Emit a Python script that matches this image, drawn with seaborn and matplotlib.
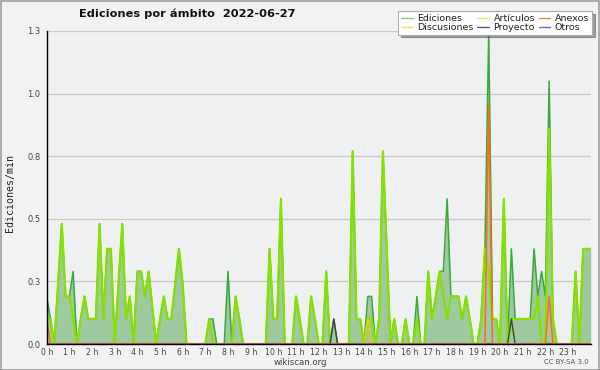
import numpy as np
import pandas as pd
import matplotlib
matplotlib.use("Agg")
import matplotlib.pyplot as plt
import seaborn as sns
from matplotlib.lines import Line2D
from matplotlib.patches import Rectangle
from matplotlib.ticker import MultipleLocator

# ---------------- data (edits/min, 10-minute buckets, 00:00 .. 24:00) ----------------
title = "Ediciones por ámbito  2022-06-27"
ylabel = "Ediciones/min"
hour_labels = [f"{h} h" for h in range(24)]
ytick_values = [0, 0.25, 0.5, 0.75, 1.0, 1.25]
ytick_labels = ["0.0", "0.3", "0.5", "0.8", "1.0", "1.3"]
step_minutes = 10

ediciones = [
    0.19, 0.10, 0, 0.24, 0.48, 0.19, 0.19, 0.29, 0, 0.10, 0.19, 0.10,
    0.10, 0.10, 0.48, 0.10, 0.38, 0.38, 0, 0.24, 0.48, 0.10, 0.19, 0,
    0.29, 0.29, 0.19, 0.29, 0.14, 0, 0.10, 0.19, 0.10, 0.10, 0.24, 0.38,
    0.24, 0, 0, 0, 0, 0, 0, 0.10, 0.10, 0, 0, 0,
    0.29, 0, 0.19, 0.10, 0, 0, 0, 0, 0, 0, 0, 0.38,
    0.10, 0.10, 0.58, 0, 0, 0, 0.19, 0.10, 0, 0, 0.19, 0.10,
    0, 0, 0.29, 0, 0.10, 0, 0, 0, 0, 0.77, 0.10, 0.10,
    0, 0.19, 0.19, 0, 0.10, 0.77, 0.38, 0, 0.10, 0, 0, 0.10,
    0, 0, 0.19, 0, 0, 0.29, 0.10, 0.19, 0.29, 0.29, 0.58, 0.19,
    0.19, 0.19, 0.10, 0.19, 0.10, 0, 0, 0.10, 0.38, 1.24, 0.10, 0.10,
    0, 0.58, 0, 0.38, 0.10, 0.10, 0.10, 0.10, 0.10, 0.38, 0.19, 0.29,
    0.19, 1.05, 0.10, 0, 0, 0, 0, 0, 0.29, 0, 0.38, 0.38,
    0.38,
]
articulos = [
    0.10, 0.10, 0, 0.24, 0.48, 0.19, 0.19, 0.10, 0, 0.10, 0.19, 0.10,
    0.10, 0.10, 0.48, 0.10, 0.38, 0.38, 0, 0.24, 0.48, 0.10, 0.19, 0,
    0.29, 0.29, 0.19, 0.29, 0.14, 0, 0.10, 0.19, 0.10, 0.10, 0.24, 0.38,
    0.24, 0, 0, 0, 0, 0, 0, 0.10, 0, 0, 0, 0,
    0, 0, 0.19, 0.10, 0, 0, 0, 0, 0, 0, 0, 0.38,
    0.10, 0.10, 0.58, 0, 0, 0, 0.19, 0.10, 0, 0, 0.19, 0.10,
    0, 0, 0.29, 0, 0, 0, 0, 0, 0, 0.77, 0.10, 0.10,
    0, 0.10, 0.10, 0, 0.10, 0.77, 0.38, 0, 0.10, 0, 0, 0.10,
    0, 0, 0.10, 0, 0, 0.29, 0.10, 0.19, 0.29, 0.19, 0.10, 0.19,
    0.19, 0.19, 0.10, 0.19, 0.10, 0, 0, 0.10, 0.38, 0.29, 0.10, 0.10,
    0, 0.58, 0, 0.10, 0.10, 0.10, 0.10, 0.10, 0.10, 0.10, 0.19, 0,
    0, 0.86, 0.10, 0, 0, 0, 0, 0, 0.29, 0, 0.38, 0.38,
    0.38,
]
anexos = [
    0.10, 0, 0, 0, 0, 0, 0, 0, 0, 0, 0, 0,
    0, 0, 0, 0, 0, 0, 0, 0, 0, 0, 0, 0,
    0, 0, 0, 0, 0, 0, 0, 0, 0, 0, 0, 0,
    0, 0, 0, 0, 0, 0, 0, 0, 0, 0, 0, 0,
    0, 0, 0, 0, 0, 0, 0, 0, 0, 0, 0, 0,
    0, 0, 0, 0, 0, 0, 0, 0, 0, 0, 0, 0,
    0, 0, 0, 0, 0, 0, 0, 0, 0, 0, 0, 0,
    0, 0, 0, 0, 0, 0, 0, 0, 0, 0, 0, 0,
    0, 0, 0, 0, 0, 0, 0, 0, 0, 0, 0, 0,
    0, 0, 0, 0, 0, 0, 0, 0, 0, 0.96, 0, 0,
    0, 0, 0, 0, 0, 0, 0, 0, 0, 0, 0, 0,
    0, 0.19, 0, 0, 0, 0, 0, 0, 0, 0, 0, 0,
    0,
]
discusiones = [
    0, 0, 0, 0, 0, 0, 0, 0, 0, 0, 0, 0,
    0, 0, 0, 0, 0, 0, 0, 0, 0, 0, 0, 0,
    0, 0, 0, 0, 0, 0, 0, 0, 0, 0, 0, 0,
    0, 0, 0, 0, 0, 0, 0, 0, 0, 0, 0, 0,
    0, 0, 0, 0, 0, 0, 0, 0, 0, 0, 0, 0,
    0, 0, 0, 0, 0, 0, 0, 0, 0, 0, 0, 0,
    0, 0, 0, 0, 0, 0, 0, 0, 0, 0, 0, 0,
    0, 0.10, 0, 0, 0, 0, 0, 0, 0, 0, 0, 0,
    0, 0, 0, 0, 0, 0, 0, 0, 0, 0, 0, 0,
    0, 0, 0, 0, 0, 0, 0, 0, 0, 0, 0, 0,
    0, 0, 0, 0, 0, 0, 0, 0, 0, 0, 0, 0,
    0, 0, 0, 0, 0, 0, 0, 0, 0, 0, 0, 0,
    0,
]
proyecto = [
    0, 0, 0, 0, 0, 0, 0, 0, 0, 0, 0, 0,
    0, 0, 0, 0, 0, 0, 0, 0, 0, 0, 0, 0,
    0, 0, 0, 0, 0, 0, 0, 0, 0, 0, 0, 0,
    0, 0, 0, 0, 0, 0, 0, 0, 0, 0, 0, 0,
    0, 0, 0, 0, 0, 0, 0, 0, 0, 0, 0, 0,
    0, 0, 0, 0, 0, 0, 0, 0, 0, 0, 0, 0,
    0, 0, 0, 0, 0.10, 0, 0, 0, 0, 0, 0, 0,
    0, 0, 0, 0, 0, 0, 0, 0, 0, 0, 0, 0,
    0, 0, 0, 0, 0, 0, 0, 0, 0, 0, 0, 0,
    0, 0, 0, 0, 0, 0, 0, 0, 0, 0, 0, 0,
    0, 0, 0, 0.10, 0, 0, 0, 0, 0, 0, 0, 0,
    0, 0, 0, 0, 0, 0, 0, 0, 0, 0, 0, 0,
    0,
]
otros = [
    0, 0, 0, 0, 0, 0, 0, 0, 0, 0, 0, 0,
    0, 0, 0, 0, 0, 0, 0, 0, 0, 0, 0, 0,
    0, 0, 0, 0, 0, 0, 0, 0, 0, 0, 0, 0,
    0, 0, 0, 0, 0, 0, 0, 0, 0, 0, 0, 0,
    0, 0, 0, 0, 0, 0, 0, 0, 0, 0, 0, 0,
    0, 0, 0, 0, 0, 0, 0, 0, 0, 0, 0, 0,
    0, 0, 0, 0, 0, 0, 0, 0, 0, 0, 0, 0,
    0, 0, 0, 0, 0, 0, 0, 0, 0, 0, 0, 0,
    0, 0, 0, 0, 0, 0, 0, 0, 0, 0, 0, 0,
    0, 0, 0, 0, 0, 0, 0, 0, 0, 0, 0, 0,
    0, 0, 0, 0, 0, 0, 0, 0, 0, 0, 0, 0,
    0, 0, 0, 0, 0, 0, 0, 0, 0, 0, 0, 0,
    0,
]

# ---------------- figure ----------------
sns.set_style("white")
plt.rcParams["font.family"] = ["DejaVu Sans"]

hours = np.arange(len(ediciones)) * step_minutes / 60.0
df = pd.DataFrame({
    "hora": hours,
    "Ediciones": ediciones,
    "Artículos": articulos,
    "Anexos": anexos,
    "Discusiones": discusiones,
    "Proyecto": proyecto,
    "Otros": otros,
})

colors = {
    "Ediciones": "#3aa83a",
    "Artículos": "#86e000",
    "Anexos": "#ff6a1a",
    "Discusiones": "#f2cc00",
    "Proyecto": "#404040",
    "Otros": "#9a44f0",
}
legend_colors = {
    "Ediciones": "#80d080",
    "Artículos": "#c8f070",
    "Anexos": "#f08050",
    "Discusiones": "#f8d860",
    "Proyecto": "#606060",
    "Otros": "#9050f0",
}

fig = plt.figure(figsize=(6.0, 3.7), dpi=100, facecolor="#f2f2f2")
ax = fig.add_axes([46.7 / 600, 26 / 370, 544 / 600, 313 / 370])
ax.set_facecolor("#eff0f1")

ax.fill_between(df["hora"], df["Ediciones"], color="#9fca9f", lw=0, zorder=1)
draw = [("Ediciones", 1.1, 3), ("Artículos", 1.6, 4), ("Discusiones", 1.0, 5),
        ("Proyecto", 1.0, 5), ("Anexos", 1.1, 6), ("Otros", 1.0, 6)]
for name, lw, z in draw:
    sns.lineplot(data=df, x="hora", y=name, color=colors[name], linewidth=lw,
                 ax=ax, zorder=z, legend=False)

ax.set_xlim(0, 24)
ax.set_ylim(0, 1.25)
ax.set_xlabel("")
ax.set_ylabel("")

ax.set_yticks(ytick_values)
ax.set_yticklabels(ytick_labels)
ax.yaxis.set_minor_locator(MultipleLocator(0.05))
ax.set_xticks(range(24))
ax.set_xticklabels(hour_labels)
ax.xaxis.set_minor_locator(MultipleLocator(0.2))

ax.tick_params(axis="both", which="both", direction="out", color="black",
               width=0.8, labelcolor="#444444")
ax.tick_params(axis="x", which="major", length=2.5, pad=0.5, labelsize=5.6)
ax.tick_params(axis="x", which="minor", length=2.5)
ax.tick_params(axis="y", which="major", length=3.5, pad=1, labelsize=6)
ax.tick_params(axis="y", which="minor", length=2)

ax.grid(axis="y", which="major", color="#c8c8c8", linewidth=0.9, zorder=0)
ax.set_axisbelow(True)
for s in ["top", "right"]:
    ax.spines[s].set_visible(False)
for s in ["left", "bottom"]:
    ax.spines[s].set_color("black")
    ax.spines[s].set_linewidth(1.0)
    ax.spines[s].set_zorder(10)

# title and texts
fig.text(187 / 600, 1 - 14 / 370, title, ha="center", va="center",
         fontsize=8.2, fontweight="bold", color="#111111")
fig.text(10 / 600, 1 - 193 / 370, ylabel, rotation=90, ha="center", va="center",
         fontsize=7.2, family="DejaVu Sans Mono", color="#222222")
fig.text(0.5, 1 - 362.5 / 370, "wikiscan.org", ha="center", va="center",
         fontsize=6.2, color="#444444")
fig.text(589 / 600, 1 - 362.5 / 370, "CC BY-SA 3.0", ha="right", va="center",
         fontsize=5, color="#555555")

# legend
order = ["Ediciones", "Discusiones", "Artículos", "Proyecto", "Anexos", "Otros"]
handles = [Line2D([0], [0], color=legend_colors[n], lw=1.0) for n in order]
leg = fig.legend(handles, order, ncol=3, loc="upper right",
                 bbox_to_anchor=(592 / 600, 1 - 11 / 370),
                 fontsize=6.8, frameon=True, fancybox=False, shadow=True,
                 handlelength=1.2, handletextpad=0.5, columnspacing=0.4,
                 labelspacing=0.0, borderpad=0.3, borderaxespad=0)
leg.get_frame().set_edgecolor("#aaaaaa")
leg.get_frame().set_linewidth(0.8)
leg.get_frame().set_facecolor("white")
for t in leg.get_texts():
    t.set_color("#222222")

# outer border
fig.patches.append(Rectangle((0.5 / 600, 0.5 / 370), 598.5 / 600, 368.5 / 370,
                             transform=fig.transFigure, fill=False,
                             edgecolor="#a0a0a0", linewidth=1.2))

fig.savefig("out.png", dpi=100, facecolor=fig.get_facecolor())
